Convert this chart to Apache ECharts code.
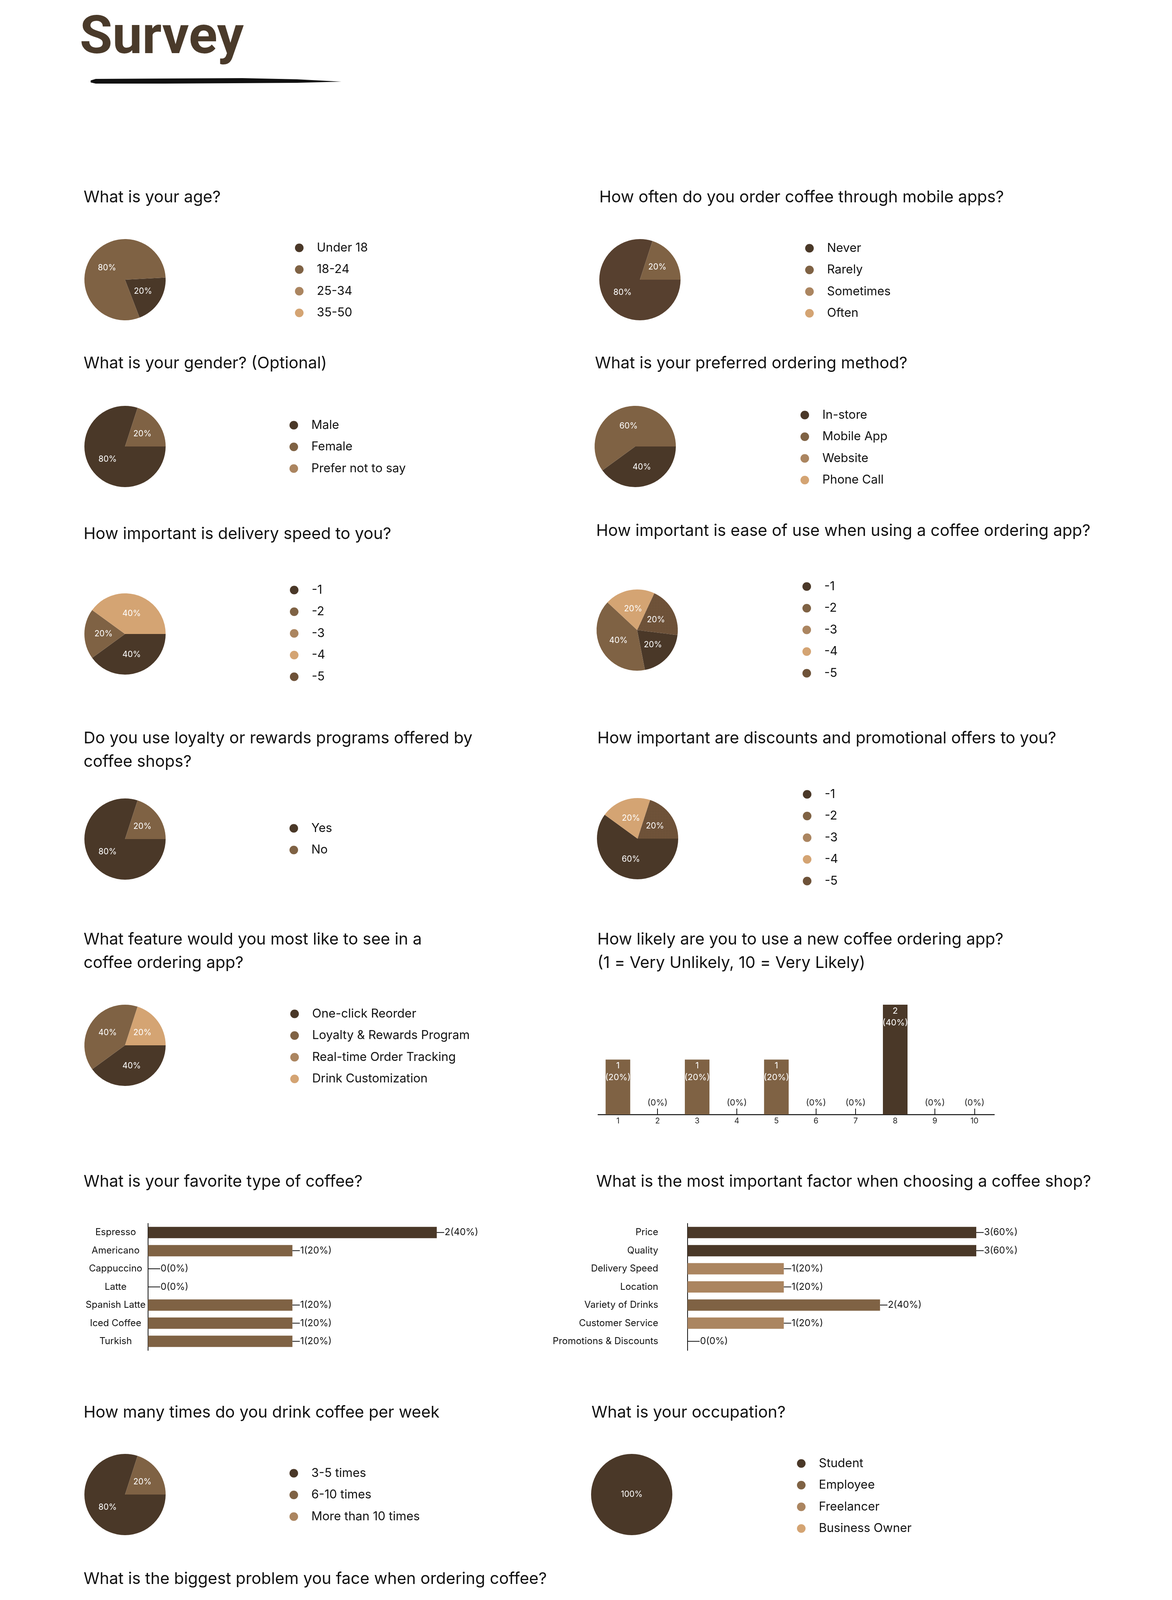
<!DOCTYPE html>
<html><head><meta charset="utf-8">
<script src="https://cdn.jsdelivr.net/npm/echarts@6/dist/echarts.min.js"></script>
<style>html,body{margin:0;padding:0;background:#fff}#c{width:3000px;height:4480px}</style>
</head><body><div id="c"></div>
<script>
// ---------- data ----------
const ageCats = ['Under 18', '18-24', '25-34', '35-50'];
const ageVals = [1, 4, 0, 0];
const appCats = ['Never', 'Rarely', 'Sometimes', 'Often'];
const appVals = [4, 1, 0, 0];
const genderCats = ['Male', 'Female', 'Prefer not to say'];
const genderVals = [4, 1, 0];
const methodCats = ['In-store', 'Mobile App', 'Website', 'Phone Call'];
const methodVals = [2, 3, 0, 0];
const scaleCats = ['-1', '-2', '-3', '-4', '-5'];
const speedVals = [2, 1, 0, 2, 0];
const easeVals = [1, 2, 0, 1, 1];
const loyaltyCats = ['Yes', 'No'];
const loyaltyVals = [4, 1];
const discountVals = [3, 0, 0, 1, 1];
const featureCats = ['One-click Reorder', 'Loyalty & Rewards Program', 'Real-time Order Tracking', 'Drink Customization'];
const featureVals = [2, 2, 0, 1];
const likelyCats = ['1', '2', '3', '4', '5', '6', '7', '8', '9', '10'];
const likelyVals = [1, 0, 1, 0, 1, 0, 0, 2, 0, 0];
const likelyPct = [20, 0, 20, 0, 20, 0, 0, 40, 0, 0];
const coffeeCats = ['Espresso', 'Americano', 'Cappuccino', 'Latte', 'Spanish Latte', 'Iced Coffee', 'Turkish'];
const coffeeVals = [2, 1, 0, 0, 1, 1, 1];
const coffeePct = [40, 20, 0, 0, 20, 20, 20];
const factorCats = ['Price', 'Quality', 'Delivery Speed', 'Location', 'Variety of Drinks', 'Customer Service', 'Promotions & Discounts'];
const factorVals = [3, 3, 1, 1, 2, 1, 0];
const factorPct = [60, 60, 20, 20, 40, 20, 0];
const weeklyCats = ['3-5 times', '6-10 times', 'More than 10 times'];
const weeklyVals = [4, 1, 0];
const occupationCats = ['Student', 'Employee', 'Freelancer', 'Business Owner'];
const occupationVals = [5, 0, 0, 0];
const problemCats = ['Long delivery time', 'High prices', 'Limited customization options', 'Poor app usability'];
const problemVals = [1, 3, 1, 0];

const questions = [
  'What is your age?',
  'How often do you order coffee through mobile apps?',
  'What is your gender? (Optional)',
  'What is your preferred ordering method?',
  'How important is delivery speed to you?',
  'How important is ease of use when using a coffee ordering app?',
  'Do you use loyalty or rewards programs offered by\ncoffee shops?',
  'How important are discounts and promotional offers to you?',
  'What feature would you most like to see in a\ncoffee ordering app?',
  'How likely are you to use a new coffee ordering app?\n(1 = Very Unlikely, 10 = Very Likely)',
  'What is your favorite type of coffee?',
  'What is the most important factor when choosing a coffee shop?',
  'How many times do you drink coffee per week',
  'What is your occupation?',
  'What is the biggest problem you face when ordering coffee?'
];

// ---------- styles / layout ----------
const DARK = '#4a3828', MED = '#7f6244', TAN = '#ab8560', LIGHT = '#d4a473', DOTC = '#72553b';
const COLORS = [DARK, MED, TAN, LIGHT, DOTC];
const DOTS = { symbol: 'circle', symbolSize: 0.55, dashArrayX: [3, 1], dashArrayY: [3, 1], color: 'rgba(35,22,12,0.45)' };
const FONT = 'Inter';

const qPos = [
  [214, 506], [1534, 506], [214, 931], [1523, 931], [214, 1368], [1526, 1360],
  [214, 1891], [1529, 1891], [214, 2406], [1529, 2406], [214, 3026], [1526, 3026],
  [214, 3617], [1514, 3617], [214, 4043]
];

const pies = [
  { cats: ageCats, vals: ageVals, c: [320, 716], start: 3, leg: [766, 634] },
  { cats: appCats, vals: appVals, c: [1638, 716], start: 0, leg: [2072, 635], slice0: '#57402f' },
  { cats: genderCats, vals: genderVals, c: [320, 1143], start: 0, leg: [752, 1088] },
  { cats: methodCats, vals: methodVals, c: [1626, 1143], start: 0, leg: [2060, 1062] },
  { cats: scaleCats, vals: speedVals, c: [320, 1623], start: 0, leg: [753, 1510] },
  { cats: scaleCats, vals: easeVals, c: [1631, 1613], start: -7, leg: [2065, 1501] },
  { cats: loyaltyCats, vals: loyaltyVals, c: [320, 2148], start: 0, leg: [752, 2120] },
  { cats: scaleCats, vals: discountVals, c: [1632, 2147], start: 0, leg: [2066, 2033] },
  { cats: featureCats, vals: featureVals, c: [320, 2676], start: 0, leg: [754, 2595] },
  { cats: weeklyCats, vals: weeklyVals, c: [320, 3826], start: 0, leg: [752, 3771] },
  { cats: occupationCats, vals: occupationVals, c: [1617, 3826], start: 90, leg: [2051, 3746], pos: 'center' },
  { cats: problemCats, vals: problemVals, c: [320, 4254], start: 0, leg: [616, 4173], fs: 15 }
];

const chart = echarts.init(document.getElementById('c'), null, { renderer: 'canvas', width: 3000, height: 4480 });

const title = questions.map((q, i) => ({
  text: q, left: qPos[i][0], top: qPos[i][1] - 30, padding: 0,
  textStyle: { fontSize: 41.5, fontWeight: 'normal', color: '#111', fontFamily: FONT, lineHeight: 60 }
}));

const legend = [];
const series = [];
pies.forEach((p) => {
  legend.push({
    orient: 'vertical', left: p.leg[0] - 11, top: p.leg[1] - 15, padding: 0,
    itemWidth: 22, itemHeight: 22, itemGap: 24.5, icon: 'circle', selectedMode: false,
    data: p.cats.map((n, i) => (i === 0 && p.slice0) ? { name: n, itemStyle: { color: DARK } } : n),
    textStyle: { fontSize: 31, color: '#111', fontFamily: FONT, lineHeight: 30, padding: [0, 0, 0, 29] }
  });
  series.push({
    type: 'pie', radius: 104, center: p.c, startAngle: p.start, clockwise: true,
    avoidLabelOverlap: false, silent: true,
    label: {
      show: true, position: p.pos || 'inside', color: '#fff', fontSize: p.fs || 21, fontFamily: FONT,
      formatter: (d) => d.value ? Math.round(d.percent) + '%' : ''
    },
    labelLine: { show: false },
    itemStyle: { borderWidth: 0 },
    data: p.cats.map((n, i) => ({
      name: n, value: p.vals[i],
      itemStyle: Object.assign(
        { color: (i === 0 && p.slice0) ? p.slice0 : COLORS[i] },
        i === 4 ? { decal: DOTS } : {}
      )
    }))
  });
});

// vertical bar: likelihood
series.push({
  type: 'bar', xAxisIndex: 0, yAxisIndex: 0, barWidth: 63, silent: true,
  label: {
    show: true, position: 'insideTop', distance: 1, color: '#fff', fontSize: 22, lineHeight: 30, fontFamily: FONT,
    formatter: (d) => d.value ? d.value + '\n(' + likelyPct[d.dataIndex] + '%)' : '(0%)'
  },
  data: likelyVals.map((v, i) => ({
    value: v,
    itemStyle: { color: v >= 2 ? DARK : MED },
    label: v ? {} : { position: 'top', distance: 15, color: '#222' }
  }))
});

const hbarLabel = (pct) => ({
  show: true, position: 'right', distance: 0,
  formatter: (d) => '{' + (d.value ? 'ln' : 'lz') + '|}{t|' + d.value + '(' + pct[d.dataIndex] + '%)}',
  rich: {
    ln: { width: 19, height: 2, backgroundColor: '#111', verticalAlign: 'middle' },
    lz: { width: 31, height: 2, backgroundColor: '#111', verticalAlign: 'middle' },
    t: { fontSize: 24, color: '#111', fontFamily: FONT, padding: [0, 0, 0, 1] }
  }
});

const coffeeColors = [DARK, MED, MED, MED, MED, MED, MED];
series.push({
  type: 'bar', xAxisIndex: 1, yAxisIndex: 1, barWidth: 29, silent: true,
  label: hbarLabel(coffeePct),
  data: coffeeVals.map((v, i) => ({ value: v, itemStyle: { color: coffeeColors[i] } }))
});
const factorColors = [DARK, DARK, TAN, TAN, MED, TAN, TAN];
series.push({
  type: 'bar', xAxisIndex: 2, yAxisIndex: 2, barWidth: 29, silent: true,
  label: hbarLabel(factorPct),
  data: factorVals.map((v, i) => ({ value: v, itemStyle: { color: factorColors[i] } }))
});

const option = {
  backgroundColor: '#fff',
  animation: false,
  title, legend, series,
  grid: [
    { left: 1531, top: 2572, width: 1014, height: 281, outerBoundsMode: 'none', containLabel: false },
    { left: 379, top: 3132, width: 739, height: 325, outerBoundsMode: 'none', containLabel: false },
    { left: 1760, top: 3132, width: 739, height: 325, outerBoundsMode: 'none', containLabel: false }
  ],
  xAxis: [
    {
      type: 'category', gridIndex: 0, data: likelyCats,
      axisLine: { show: true, lineStyle: { color: '#111', width: 2.5 } },
      axisTick: { show: true, inside: true, length: 15, alignWithLabel: true, lineStyle: { color: '#111', width: 2 } },
      axisLabel: { fontSize: 20, color: '#222', margin: 7, fontFamily: FONT },
      splitLine: { show: false }
    },
    { type: 'value', gridIndex: 1, min: 0, max: 2, show: false },
    { type: 'value', gridIndex: 2, min: 0, max: 3, show: false }
  ],
  yAxis: [
    { type: 'value', gridIndex: 0, min: 0, max: 2, show: false },
    {
      type: 'category', gridIndex: 1, data: coffeeCats, inverse: true,
      axisLine: { show: true, lineStyle: { color: '#111', width: 2 } },
      axisTick: { show: false }, splitLine: { show: false },
      axisLabel: { align: 'center', margin: 83, fontSize: 24, color: '#111', fontFamily: FONT, padding: [0, 0, 10, 0] }
    },
    {
      type: 'category', gridIndex: 2, data: factorCats, inverse: true,
      axisLine: { show: true, lineStyle: { color: '#111', width: 2 } },
      axisTick: { show: false }, splitLine: { show: false },
      axisLabel: { align: 'right', margin: 75, fontSize: 24, color: '#111', fontFamily: FONT, padding: [0, 0, 10, 0] }
    }
  ],
  graphic: [
    {
      type: 'text', silent: true,
      style: { text: 'Survey', x: 204, y: 102, fill: '#4a3a2a', font: 'bold 136px Roboto', verticalAlign: 'middle', align: 'left' }
    },
    {
      type: 'polygon', silent: true,
      shape: { points: [[232, 206], [245, 202], [420, 201], [620, 200], [760, 203], [874, 209], [760, 212], [600, 213], [420, 214], [245, 214], [232, 211]] },
      style: { fill: '#111' }
    },
    {
      type: 'text', silent: true,
      style: { text: 'مستقل', x: 1492, y: 4276, fill: '#e6e6e6', font: 'bold 140px "DejaVu Sans"', verticalAlign: 'middle', align: 'center' }
    },
    {
      type: 'text', silent: true,
      style: { text: 'mostaql.com', x: 1500, y: 4366, fill: '#e6e6e6', font: 'bold 62px Roboto', verticalAlign: 'middle', align: 'center' }
    }
  ]
};
chart.setOption(option);
</script></body></html>
